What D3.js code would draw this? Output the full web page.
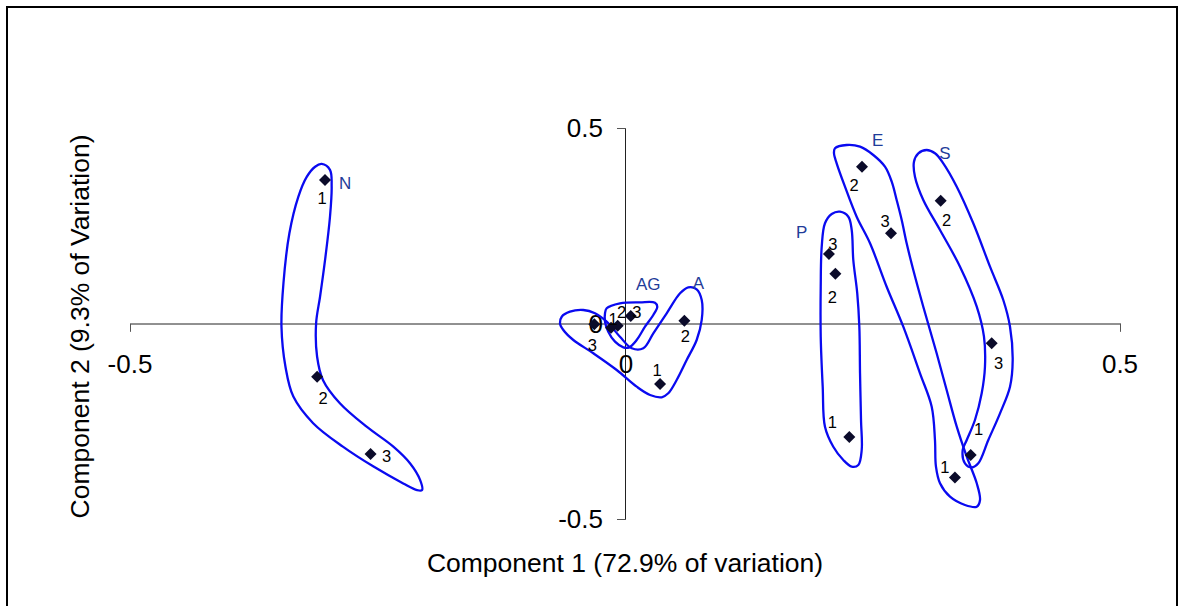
<!DOCTYPE html>
<html>
<head>
<meta charset="utf-8">
<script src="https://cdn.jsdelivr.net/npm/d3@7/dist/d3.min.js"></script>
<style>
html,body{margin:0;padding:0;background:#fff;}
svg{display:block;}
text{font-family:"Liberation Sans",Arial,sans-serif;}
</style>
</head>
<body>
<svg id="chart" width="1183" height="606"></svg>
<script>
// ---------- data ----------
const xTicks = [-0.5, 0, 0.5];
const yTicks = [0.5, 0, -0.5];
const xTickLabels = ["-0.5", "0", "0.5"];
const yTickLabels = ["0.5", "0", "-0.5"];
const xTitle = "Component 1 (72.9% of variation)";
const yTitle = "Component 2 (9.3% of Variation)";

const pointGroup = ["N","N","N","A","A","A","AG","AG","AG","P","P","P","E","E","E","S","S","S"];
const pointLabel = ["1","2","3","1","2","3","1","2","3","1","2","3","1","2","3","1","2","3"];
const pc1 = [-0.303,-0.311,-0.257, 0.0354,0.060,-0.031, -0.0141,-0.0074,0.0058, 0.2266,0.2125,0.206, 0.3333,0.2394,0.2687, 0.3492,0.3189,0.3704];
const pc2 = [ 0.367,-0.136,-0.334, -0.155,0.007,-0.002, -0.011,-0.006,0.019, -0.290,0.127,0.178, -0.394,0.401,0.231, -0.336,0.314,-0.0507];

const groupNames = ["N","AG","A","P","E","S"];
const groupLabelX = [-0.2828, 0.0235, 0.0741, 0.1785, 0.2553, 0.3232];
const groupLabelY = [0.3568, 0.101, 0.1026, 0.2332, 0.4675, 0.4353];

// hand-drawn group outlines, in component units
const outlineN = [[-0.3064,0.408],[-0.298,0.393],[-0.2963,0.350],[-0.298,0.273],[-0.303,0.162],[-0.308,0.069],[-0.312,0.001],[-0.311,-0.085],[-0.305,-0.145],[-0.288,-0.204],[-0.261,-0.264],[-0.234,-0.315],[-0.217,-0.358],[-0.207,-0.400],[-0.205,-0.426],[-0.210,-0.426],[-0.224,-0.409],[-0.254,-0.366],[-0.285,-0.315],[-0.315,-0.255],[-0.335,-0.187],[-0.343,-0.110],[-0.347,-0.008],[-0.345,0.103],[-0.339,0.231],[-0.330,0.324],[-0.3215,0.375],[-0.313,0.401]];
const outlineA = [[-0.0639,0.0174],[-0.0556,0.0302],[-0.0421,0.0345],[-0.0303,0.0261],[-0.0185,0.0046],[-0.0051,-0.0338],[0.0068,-0.0634],[0.0185,-0.0634],[0.0286,-0.0251],[0.0421,0.0261],[0.0556,0.0772],[0.0639,0.0926],[0.0724,0.0875],[0.0775,0.0601],[0.0775,0.0090],[0.0724,-0.0422],[0.0623,-0.0934],[0.0522,-0.1445],[0.0437,-0.1785],[0.0371,-0.1887],[0.0253,-0.1829],[0.0118,-0.1616],[-0.0084,-0.1189],[-0.0320,-0.0762],[-0.0522,-0.0422],[-0.0623,-0.0166],[-0.0657,0.0005]];
const outlineAG = [[-0.0185,0.0389],[-0.0051,0.0517],[0.0152,0.0542],[0.0303,0.0532],[0.0326,0.0430],[0.0286,0.0217],[0.0202,-0.0082],[0.0118,-0.0422],[0.0043,-0.0609],[-0.0017,-0.0609],[-0.0101,-0.0465],[-0.0169,-0.0210],[-0.0202,0.0046],[-0.0202,0.0261]];
const outlineP = [[0.2172,0.2859],[0.2256,0.2731],[0.2290,0.2391],[0.2306,0.1624],[0.2346,0.0772],[0.2367,-0.0082],[0.2374,-0.1274],[0.2384,-0.2468],[0.2391,-0.3235],[0.2357,-0.3619],[0.2290,-0.3662],[0.2205,-0.3491],[0.2104,-0.3151],[0.2020,-0.2639],[0.1997,-0.1616],[0.1977,-0.0338],[0.1977,0.0941],[0.1987,0.1964],[0.2020,0.2563],[0.2088,0.2801]];
const outlineE = [[0.2121,0.4481],[0.2239,0.4565],[0.2374,0.4522],[0.2508,0.4309],[0.2626,0.4010],[0.2694,0.3627],[0.2744,0.3159],[0.2795,0.2647],[0.2845,0.2051],[0.2912,0.1368],[0.3013,0.0430],[0.3148,-0.0762],[0.3249,-0.1701],[0.3351,-0.2639],[0.3452,-0.3407],[0.3553,-0.4087],[0.3586,-0.4514],[0.3553,-0.4685],[0.3434,-0.4642],[0.3283,-0.4430],[0.3182,-0.4087],[0.3141,-0.3662],[0.3131,-0.2980],[0.3098,-0.2128],[0.2980,-0.1274],[0.2811,-0.0082],[0.2643,0.0941],[0.2475,0.2051],[0.2340,0.2731],[0.2222,0.3499],[0.2138,0.4097],[0.2111,0.4353]];
const outlineS = [[0.3047,0.4437],[0.3131,0.4353],[0.3215,0.4097],[0.3351,0.3499],[0.3518,0.2563],[0.3687,0.1453],[0.3821,0.0601],[0.3889,-0.0082],[0.3916,-0.0934],[0.3889,-0.1616],[0.3788,-0.2297],[0.3670,-0.2980],[0.3569,-0.3575],[0.3502,-0.3678],[0.3434,-0.3575],[0.3411,-0.3235],[0.3452,-0.2980],[0.3535,-0.2468],[0.3603,-0.1785],[0.3636,-0.1105],[0.3626,-0.0338],[0.3553,0.0430],[0.3384,0.1453],[0.3182,0.2391],[0.3013,0.3159],[0.2929,0.3754],[0.2919,0.4138],[0.2963,0.4353]];
const outlines = [outlineN, outlineA, outlineAG, outlineP, outlineE, outlineS];

// ---------- layout / style ----------
const labelDx = [-3, 6, 16, -3, 1, -2, 2, 4, 6, -17, -3, 4, -10, -8, -6, 8, 6, 7];
const labelDy = [18, 21, 2, -14, 15, 21, -9, -14, -4, -15, 23, -10, -11, 18, -12, -26, 19, 20];

const svg = d3.select("#chart");
const x = d3.scaleLinear().domain([-0.5, 0.5]).range([130, 1120]);
const y = d3.scaleLinear().domain([-0.5, 0.5]).range([519, 128]);

// outer frame
svg.append("rect").attr("x", 7).attr("y", 7).attr("width", 1170).attr("height", 620)
  .attr("fill", "none").attr("stroke", "#000").attr("stroke-width", 2);

// axes crossing at 0
const gx = svg.append("g").attr("transform", `translate(0,${y(0)})`);
gx.call(d3.axisBottom(x).tickValues([-0.5, 0.5]).tickSize(8).tickFormat(""));
gx.select(".domain").attr("stroke", "#222");
gx.selectAll(".tick line").attr("stroke", "#555");
const gy = svg.append("g").attr("transform", `translate(${x(0)},0)`);
gy.call(d3.axisLeft(y).tickValues([-0.5, 0.5]).tickSize(8).tickFormat(""));
gy.select(".domain").attr("stroke", "#222");
gy.selectAll(".tick line").attr("stroke", "#555");

// tick labels
svg.append("g").selectAll("text").data(xTicks).join("text")
  .attr("x", (d) => x(d) + (d === 0 ? 1 : 0)).attr("y", y(0) + 49)
  .attr("text-anchor", "middle").attr("font-size", 26).attr("fill", "#000")
  .text((d, i) => xTickLabels[i]);
svg.append("g").selectAll("text").data(yTicks).join("text")
  .attr("x", x(0) - 22).attr("y", (d) => y(d) + 9)
  .attr("text-anchor", "end").attr("font-size", 26).attr("fill", "#000")
  .text((d, i) => yTickLabels[i]);

// axis titles
svg.append("text").attr("x", x(0)).attr("y", 572).attr("text-anchor", "middle")
  .attr("font-size", 26.5).attr("fill", "#000").text(xTitle);
svg.append("text").attr("transform", `translate(89,${y(0) + 3}) rotate(-90)`)
  .attr("text-anchor", "middle").attr("font-size", 26.5).attr("fill", "#000").text(yTitle);

// outlines
const line = d3.line().x((d) => x(d[0])).y((d) => y(d[1])).curve(d3.curveCatmullRomClosed.alpha(0.5));
svg.append("g").selectAll("path").data(outlines).join("path")
  .attr("d", line).attr("fill", "none").attr("stroke", "#0a0af0").attr("stroke-width", 2.3);

// points
const sym = d3.symbol().type(d3.symbolSquare).size(72);
svg.append("g").selectAll("path").data(pc1).join("path")
  .attr("d", sym)
  .attr("transform", (d, i) => `translate(${x(pc1[i])},${y(pc2[i])}) rotate(45)`)
  .attr("fill", "#0b0b2a");

// point labels
svg.append("g").selectAll("text").data(pointLabel).join("text")
  .attr("x", (d, i) => x(pc1[i]) + labelDx[i])
  .attr("y", (d, i) => y(pc2[i]) + labelDy[i])
  .attr("text-anchor", "middle").attr("dominant-baseline", "central")
  .attr("font-size", 16.5).attr("fill", "#000").text((d) => d);

// group labels
svg.append("g").selectAll("text").data(groupNames).join("text")
  .attr("x", (d, i) => x(groupLabelX[i]))
  .attr("y", (d, i) => y(groupLabelY[i]))
  .attr("text-anchor", "middle").attr("dominant-baseline", "central")
  .attr("font-size", 17).attr("fill", "#1f3c99").text((d) => d);
</script>
</body>
</html>
